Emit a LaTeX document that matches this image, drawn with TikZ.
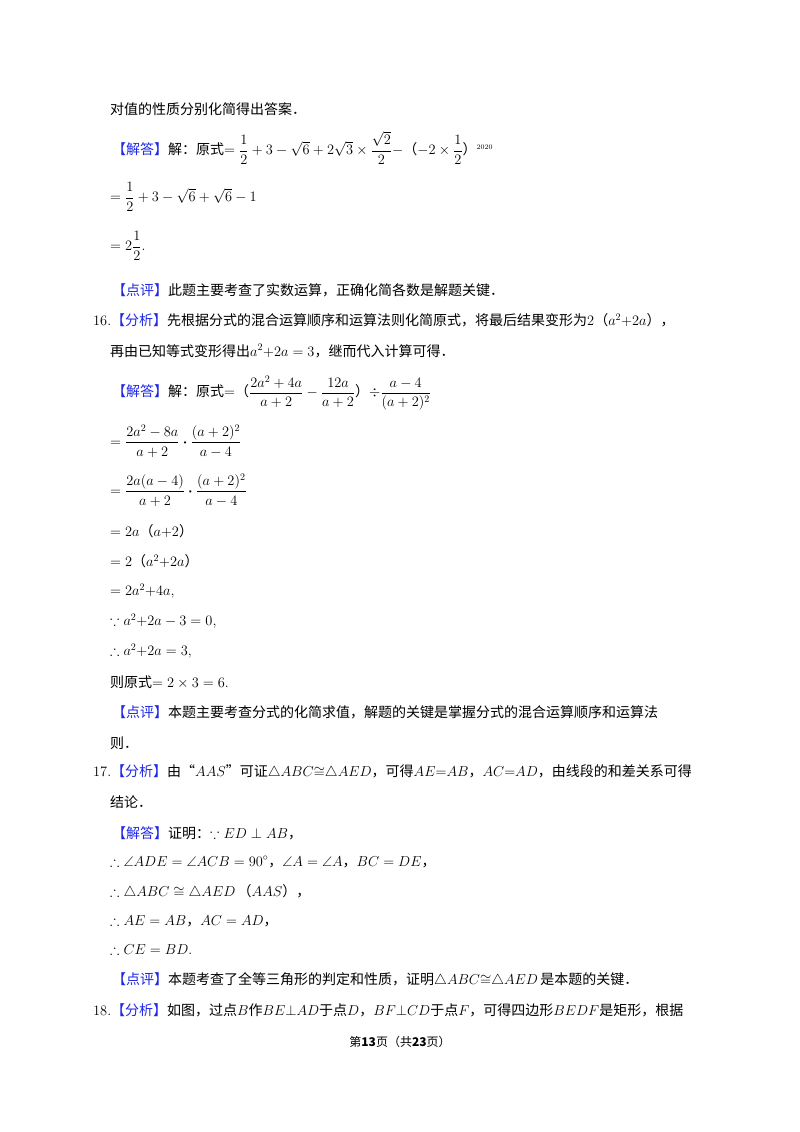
\documentclass[tikz,border=0pt]{standalone}
\usepackage{amsmath,amssymb}
\usepackage{fontspec}
\setmainfont{Noto Sans CJK SC}
\definecolor{lblue}{RGB}{30,40,230}
\newcommand{\lb}[1]{\textcolor{lblue}{【#1】}}
\begin{document}
\begin{tikzpicture}[x=1pt,y=-1pt,
  ln/.style={anchor=west,inner sep=0pt,font=\fontsize{14}{16}\selectfont}]
\useasboundingbox[fill=white] (0,0) rectangle (800,1132);
\node[ln] (l1) at (110,109) {对值的性质分别化简得出答案．};
\node[ln] (l2) at (112,148) {\lb{解答}解：原式$=\dfrac12+3-\sqrt6+2\sqrt3\times\dfrac{\sqrt2}{2}-$（$-2\times\dfrac12$）$^{\scriptscriptstyle 2020}$};
\node[ln] (l3) at (110,197) {$=\dfrac12+3-\sqrt6+\sqrt6-1$};
\node[ln] (l4) at (110,246) {$=2\dfrac12.$};
\node[ln] (l5) at (112,290) {\lb{点评}此题主要考查了实数运算，正确化简各数是解题关键．};
\node[ln] (l6) at (93,320) {$16.$\lb{分析}先根据分式的混合运算顺序和运算法则化简原式，将最后结果变形为$2$（$a^2{+}2a$），};
\node[ln] (l7) at (110,351) {再由已知等式变形得出$a^2{+}2a=3$，继而代入计算可得．};
\node[ln] (l8) at (112,393) {\lb{解答}解：原式$=$（$\dfrac{2a^2+4a}{a+2}-\dfrac{12a}{a+2}$）$\div\dfrac{a-4}{(a+2)^2}$};
\node[ln] (l9) at (110,441) {$=\dfrac{2a^2-8a}{a+2}\boldsymbol{\cdot}\dfrac{(a+2)^2}{a-4}$};
\node[ln] (l10) at (110,490) {$=\dfrac{2a(a-4)}{a+2}\boldsymbol{\cdot}\dfrac{(a+2)^2}{a-4}$};
\node[ln] (l11) at (110,531) {$=2a$（$a{+}2$）};
\node[ln] (l12) at (110,561) {$=2$（$a^2{+}2a$）};
\node[ln] (l13) at (110,591) {$=2a^2{+}4a,$};
\node[ln] (l14) at (110,621) {$\because a^2{+}2a-3=0,$};
\node[ln] (l15) at (110,651) {$\therefore a^2{+}2a=3,$};
\node[ln] (l16) at (110,682) {则原式$=2\times3=6.$};
\node[ln] (l17) at (112,712) {\lb{点评}本题主要考查分式的化简求值，解题的关键是掌握分式的混合运算顺序和运算法};
\node[ln] (l18) at (110,743) {则．};
\node[ln] (l19) at (93,772) {$17.$\lb{分析}由“$AAS$”可证$\triangle ABC{\cong}\triangle AED$，可得$AE{=}AB$，$AC{=}AD$，由线段的和差关系可得};
\node[ln] (l20) at (110,802) {结论．};
\node[ln] (l21) at (112,833) {\lb{解答}证明：$\because ED\perp AB$，};
\node[ln] (l22) at (110,862) {$\therefore\angle ADE=\angle ACB=90^\circ$，$\angle A=\angle A$，$BC=DE$，};
\node[ln] (l23) at (110,892) {$\therefore\triangle ABC\cong\triangle AED$\,（$AAS$），};
\node[ln] (l24) at (110,921) {$\therefore AE=AB$，$AC=AD$，};
\node[ln] (l25) at (110,950) {$\therefore CE=BD.$};
\node[ln] (l26) at (112,980) {\lb{点评}本题考查了全等三角形的判定和性质，证明$\triangle ABC{\cong}\triangle AED$\,是本题的关键．};
\node[ln] (l27) at (93,1010) {$18.$\lb{分析}如图，过点$B$作$BE{\perp}AD$于点$D$，$BF{\perp}CD$于点$F$，可得四边形$BEDF$是矩形，根据};
\node[anchor=center,inner sep=0pt,font=\fontsize{12}{14}\selectfont] (ft) at (400,1042) {第\textbf{13}页（共\textbf{23}页）};
\end{tikzpicture}
\end{document}
